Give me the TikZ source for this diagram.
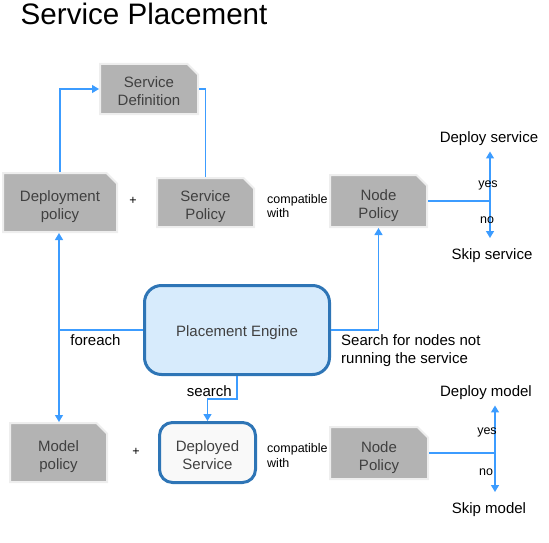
\documentclass[tikz,border=0pt]{standalone}
\usepackage{xcolor}
\usepackage{fontspec}
\setmainfont{Liberation Sans}
\usepackage{tikz}
\usetikzlibrary{shapes.misc, arrows.meta, positioning, calc}

\definecolor{boxgray}{HTML}{B3B3B3}
\definecolor{boxrim}{HTML}{EEEEEE}
\definecolor{boxtext}{HTML}{404040}
\definecolor{flowblue}{HTML}{3C9CFF}
\definecolor{peblue}{HTML}{2E75B6}
\definecolor{pefill}{HTML}{D7EBFC}
\definecolor{dsfill}{HTML}{F9F9F9}

\begin{document}
\begin{tikzpicture}[x=1pt, y=-1pt,
    policy/.style={chamfered rectangle, chamfered rectangle corners=north east, chamfered rectangle xsep=7pt, fill=boxgray, draw=boxrim, line width=2pt, inner sep=0pt, align=center, text=boxtext, font=\fontsize{15}{18}\selectfont, text height=36pt, text depth=2pt},
    engine/.style={rectangle, rounded corners=17pt, draw=peblue, line width=3pt, inner sep=0pt, align=center, text=boxtext, font=\fontsize{15}{18}\selectfont},
    arrow/.style={-{Triangle[length=7pt, width=8pt]}, line width=1.4pt, draw=flowblue},
    link/.style={line width=1.4pt, draw=flowblue},
    msg/.style={font=\fontsize{15}{18}\selectfont, align=left, inner sep=0pt},
    note/.style={font=\fontsize{12.5}{14.5}\selectfont, align=left, inner sep=0pt},
    outcome/.style={font=\fontsize{15}{18}\selectfont, inner sep=2pt, outer sep=3.5pt},
    skip/.style={outcome, outer sep=9pt}
]
\useasboundingbox (0,0) rectangle (549,543);

% Title
\node[anchor=base west, inner sep=0pt, font=\fontsize{29.6}{34}\selectfont] (title) at (20.5,25) {Service Placement};

% Policies
\node[policy, minimum width=98pt, minimum height=50pt] (sd) at (149,89) {Service\\Definition};
\node[policy, minimum width=114pt, minimum height=59pt] (dp) at (60,202.5) {Deployment\\policy};
\node[policy, minimum width=97pt, minimum height=49pt] (sp) at (205.5,202.5) {Service\\Policy};
\node[policy, minimum width=97pt, minimum height=52pt] (npsvc) at (378.5,201) {Node\\Policy};
\node[policy, minimum width=97pt, minimum height=59pt] (mp) at (58.5,452.5) {Model\\policy};
\node[policy, minimum width=98pt, minimum height=52pt] (npmod) at (379,453) {Node\\Policy};

% Engine and deployed service
\node[engine, fill=pefill, text height=12pt, text depth=0pt, minimum width=185pt, minimum height=89pt] (pe) at (237,330) {Placement Engine};
\node[engine, fill=dsfill, rounded corners=13pt, text height=35pt, text depth=2pt, minimum width=96pt, minimum height=60pt] (ds) at (207.5,452.5) {Deployed\\Service};

% Outcomes
\node[outcome] (depsvc) at (489,139) {Deploy service};
\node[skip] (skipsvc) at (492,256) {Skip service};
\node[outcome] (depmod) at (486,393) {Deploy model};
\node[skip] (skipmod) at (489,510) {Skip model};

% Junctions
\coordinate (jfor) at (59,330);
\coordinate (jsvc) at (490,201);
\coordinate (jmod) at (495,453);

% Connectors
\draw[arrow] (dp.north) |- (sd.west);
\draw[link] (sd.east) -| (sp.north);
\draw[link] (pe.west) -- (jfor);
\draw[arrow] (jfor) -- (jfor |- dp.south);
\draw[arrow] (jfor) -- (jfor |- mp.north);
\draw[arrow] (pe.east) -| (npsvc.south);
\draw[arrow] (pe.south) -- ++(0,23) -| (ds.north);
\draw[link] (npsvc.east) -- (jsvc);
\draw[arrow] (jsvc) -- (jsvc |- depsvc.south);
\draw[arrow] (jsvc) -- (jsvc |- skipsvc.north);
\draw[link] (npmod.east) -- (jmod);
\draw[arrow] (jmod) -- (jmod |- depmod.south);
\draw[arrow] (jmod) -- (jmod |- skipmod.north);

% Labels
\node[note] (plus1) at (133,201) {+};
\node[note] (plus2) at (136,452) {+};
\node[note, anchor=west] (compsvc) at (267,206) {compatible\\with};
\node[note, anchor=west] (compmod) at (267,455.5) {compatible\\with};
\node[msg] (foreach) at (95.5,340) {foreach};
\node[msg, anchor=west] (searchnodes) at (341,351) {Search for nodes not\\running the service};
\node[msg, anchor=east] (search) at (232,391) {search};
\node[note] (yessvc) at (488,185) {yes};
\node[note] (nosvc) at (487,220) {no};
\node[note] (yesmod) at (487,432) {yes};
\node[note] (nomod) at (486,472) {no};

\end{tikzpicture}
\end{document}
